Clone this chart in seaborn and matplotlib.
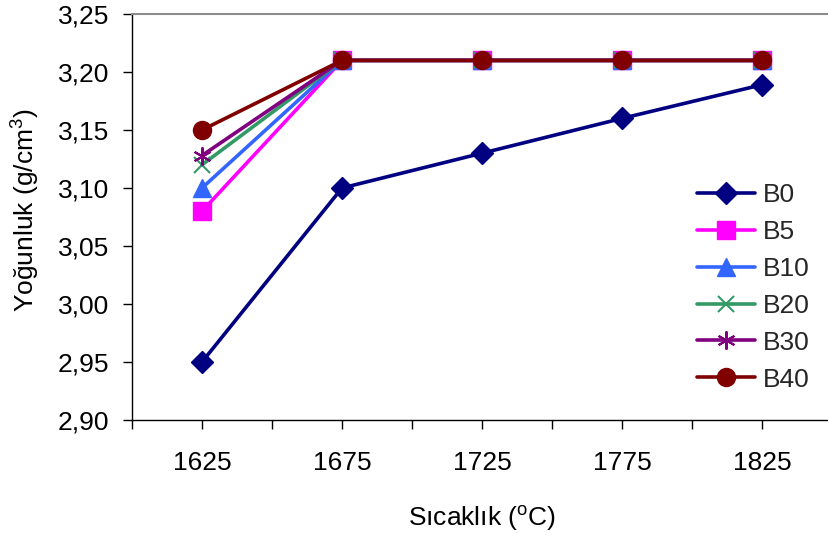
import matplotlib
matplotlib.use("Agg")
import matplotlib.pyplot as plt
from matplotlib.ticker import FixedLocator, FuncFormatter
import seaborn as sns
import pandas as pd

temperatures = ["1625", "1675", "1725", "1775", "1825"]
b0 = [2.95, 3.10, 3.13, 3.16, 3.189]
b5 = [3.08, 3.21, 3.21, 3.21, 3.21]
b10 = [3.10, 3.21, 3.21, 3.21, 3.21]
b20 = [3.12, 3.21, 3.21, 3.21, 3.21]
b30 = [3.128, 3.21, 3.21, 3.21, 3.21]
b40 = [3.15, 3.21, 3.21, 3.21, 3.21]

series_names = ["B0", "B5", "B10", "B20", "B30", "B40"]
series_values = [b0, b5, b10, b20, b30, b40]
colors = ["#000080", "#FF00FF", "#3366FF", "#339966", "#800080", "#800000"]
markers = ["D", "s", "^", "x", (6, 2, 0), "o"]
msizes = [11, 12.5, 13, 12, 13, 13]
mew = [1, 1, 1, 1.5, 1.5, 1]

sns.set_theme(style="white")
plt.rcParams["font.family"] = ["Liberation Sans", "DejaVu Sans"]
plt.rcParams["mathtext.fontset"] = "custom"
plt.rcParams["mathtext.rm"] = "Liberation Sans"
plt.rcParams["mathtext.it"] = "Liberation Sans"
plt.rcParams["mathtext.default"] = "regular"

W, H = 829, 538
fig = plt.figure(figsize=(W / 100, H / 100), dpi=100)
ax = fig.add_axes([132 / W, 1 - 420 / H, 700 / W, 406 / H])

rows = []
for name, vals in zip(series_names, series_values):
    for i, v in enumerate(vals):
        rows.append({"series": name, "pos": i, "value": v})
df = pd.DataFrame(rows)

for name, col, mk, ms, mw in zip(series_names, colors, markers, msizes, mew):
    sub = df[df["series"] == name]
    sns.lineplot(data=sub, x="pos", y="value", ax=ax, color=col, linewidth=2.6,
                 marker=mk, markersize=ms, markeredgecolor=col, markerfacecolor=col,
                 markeredgewidth=mw, label=name)

ax.set_xlim(-0.5, 4.5)
ax.set_ylim(2.90, 3.25)
ax.xaxis.set_major_locator(FixedLocator(range(len(temperatures))))
ax.set_xticklabels(temperatures)
ax.xaxis.set_minor_locator(FixedLocator([-0.5, 0.5, 1.5, 2.5, 3.5, 4.5]))
ax.set_yticks([2.90, 2.95, 3.00, 3.05, 3.10, 3.15, 3.20, 3.25])
ax.yaxis.set_major_formatter(FuncFormatter(lambda v, p: f"{v:.2f}".replace(".", ",")))

FS = 19
ax.tick_params(axis="both", which="major", direction="out", length=6.5, width=1,
               color="black", labelsize=FS, labelcolor="black", bottom=True, left=True)
ax.tick_params(axis="x", which="minor", direction="out", length=6.5, width=1,
               color="black", bottom=True)
ax.tick_params(axis="x", which="major", pad=16)
ax.tick_params(axis="y", which="major", pad=10)

for side in ["left", "bottom"]:
    ax.spines[side].set_color("black")
    ax.spines[side].set_linewidth(1)
ax.spines["top"].set_color("#8c8c8c")
ax.spines["top"].set_linewidth(1.5)
ax.spines["right"].set_visible(False)
ax.grid(False)

ax.set_xlabel("Sıcaklık ($^{o}$C)", fontsize=FS, color="black", labelpad=21)
ax.set_ylabel("Yoğunluk (g/cm$^{3}$)", fontsize=FS, color="black")
ax.yaxis.set_label_coords((42 - 132) / 700, (420 - 210) / 406)

leg = ax.legend(loc="upper left", bbox_to_anchor=(697 / W, 1 - 183 / H),
                bbox_transform=fig.transFigure, frameon=False, fontsize=FS,
                handlelength=2.2, handletextpad=0.3, labelspacing=0.49,
                borderaxespad=0, borderpad=0)

fig.savefig("out.png", dpi=100)
